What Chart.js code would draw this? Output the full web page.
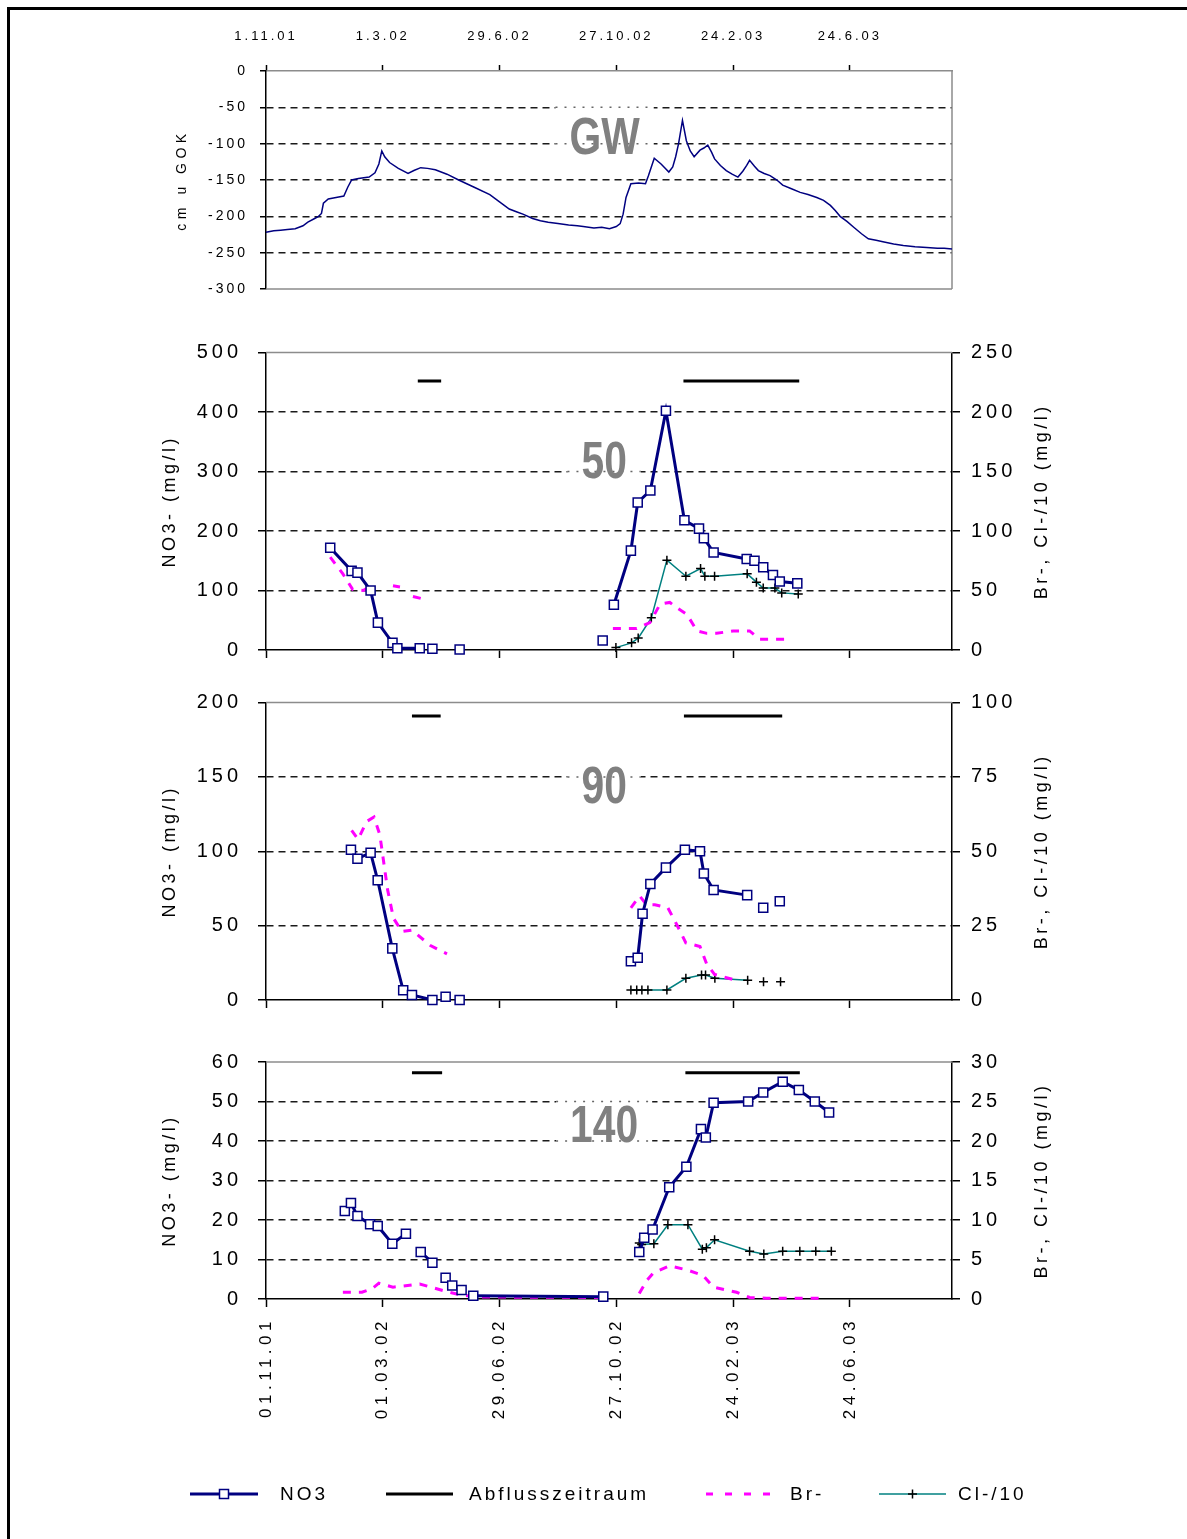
<!DOCTYPE html>
<html>
<head>
<meta charset="utf-8">
<script src="https://cdn.jsdelivr.net/npm/chart.js@4.4.1/dist/chart.umd.min.js"></script>
<style>
html,body{margin:0;padding:0;background:#fff;}
#page{position:relative;width:1187px;height:1539px;overflow:hidden;background:#fff;}
#frame{position:absolute;left:7px;top:7px;width:1300px;height:1700px;border-left:3px solid #000;border-top:3px solid #000;}
canvas{position:absolute;left:0;}
</style>
</head>
<body>
<div id="page">
<div id="frame"></div>
<canvas id="cGW" width="1187" height="285" style="top:16px"></canvas>
<canvas id="c50" width="1187" height="328" style="top:337px"></canvas>
<canvas id="c90" width="1187" height="328" style="top:687px"></canvas>
<canvas id="c140" width="1187" height="492" style="top:1047px"></canvas>
</div>
<script>
// ---------------- DATA (x = days since 01.11.2001) ----------------
const tickDays = [0, 120, 240, 360, 480, 600];
const topTickLabels = ['1.11.01', '1.3.02', '29.6.02', '27.10.02', '24.2.03', '24.6.03'];
const bottomTickLabels = ['01.11.01', '01.03.02', '29.06.02', '27.10.02', '24.02.03', '24.06.03'];
const xMax = 705;

// Groundwater level (cm u GOK)
const gwDays = [0, 8, 15, 22, 30, 38, 43, 50, 54, 57, 59, 64, 72, 80, 84, 88, 95, 106, 112, 116, 119, 122, 127, 136, 146, 152, 159, 166, 174, 186, 198, 214, 230, 240, 250, 258, 264, 274, 282, 290, 300, 311, 320, 326, 337, 345, 353, 360, 364, 367, 370, 375, 383, 390, 393, 399, 406, 414, 418, 421, 424, 428, 432, 436, 440, 446, 450, 454, 458, 461, 467, 473, 479, 485, 490, 494, 497, 502, 506, 512, 518, 525, 531, 540, 549, 557, 566, 573, 580, 585, 590, 597, 604, 612, 619, 627, 634, 645, 655, 667, 679, 690, 697, 705];
const gwLevel = [-222, -220, -219, -218, -217, -213, -208, -203, -200, -196, -182, -176, -174, -172, -160, -150, -148, -146, -140, -128, -110, -118, -126, -134, -141, -137, -133, -134, -136, -142, -150, -160, -170, -180, -190, -194, -197, -203, -206, -208, -210, -212, -213, -214, -216, -215, -217, -214, -210, -197, -174, -155, -154, -155, -144, -120, -128, -139, -132, -118, -100, -68, -96, -110, -118, -109, -106, -102, -112, -121, -130, -137, -142, -146, -138, -130, -123, -131, -137, -141, -144, -150, -157, -162, -167, -170, -174, -178, -185, -192, -200, -207, -215, -224, -231, -233, -235, -238, -240, -242, -243, -244, -244, -245];

// 50 cm
const no3_50_days = [66, 88, 94, 107.5, 115, 130, 135, 158, 165, 171, 185, 199, 300, 346, 352, 357.5, 375, 382, 395, 411, 430, 445, 450, 460, 494, 502, 511, 521, 528, 546];
const no3_50 = [172, 133, 130, 100, 46, 12, 3, 3, null, 2, null, 1, null, 16, null, 76, 167, 248, 268, 402, 218, 204, 188, 164, 153, 150, 139, 126, 115, 112];
const br_50_days = [66, 79, 89, 100, 110, 122, 130.5, 137.7, 144, 151, 161, 250, 356.5, 381, 394.5, 405, 415, 422, 432.5, 443, 453, 463, 480, 497, 507.5, 521, 533];
const br_50 = [78, 64, 51, 50, 55, null, 54, 53, null, 45, 43, null, 18, 18, 23, 38.5, 40, 35.6, 30, 16, 14, 14, 16, 16, 9, 9, 9];
const cl_50_days = [359.6, 375.7, 382.5, 396, 412, 431.5, 446.6, 451, 461, 494.5, 504, 511, 523, 530, 547];
const cl_50 = [2, 6, 10, 27, 75.5, 62, 68.5, 62, 62, 64, 57, 52, 52, 48, 47];
const abfluss_50_days = [156, 180, 300, 429, 548];
const abfluss_50 = [452, 452, null, 452, 452];

// 90 cm
const no3_90_days = [87.3, 94, 107.5, 114.8, 129.8, 141, 150, 171, 178, 184.6, 192, 199, 300, 375, 382, 387, 395, 411, 430.5, 446, 450, 460, 494.5, 503, 511, 520, 528];
const no3_90 = [101, 95, 99, 80.5, 34.7, 6.5, 3.4, 0, null, 2.2, null, 0, null, 26, 28.4, 58, 78, 89, 101, 100, 85, 74, 70.5, null, 62, null, 66.4];
const br_90_days = [88, 94.6, 103.5, 111, 117, 125, 131, 139.7, 150, 168.5, 186, 280, 375, 384, 391, 399.6, 413, 423, 431.5, 446, 453, 461, 482];
const br_90 = [57, 54, 60, 61.5, 55.5, 37, 27.5, 23, 23.5, 18.4, 15.5, null, 31, 35, 32, 32, 31, 24.8, 19.2, 18, 12, 8.6, 6.7];
const cl_90_days = [375, 381, 386.3, 392.5, 412, 431.5, 447.6, 451.7, 461.3, 495, 503, 511.3, 520, 528.8];
const cl_90 = [3.4, 3.4, 3.4, 3.4, 3.4, 7.3, 8.4, 8.4, 7.3, 6.6, null, 6.1, null, 6.1];
const abfluss_90_days = [150, 179.5, 300, 429.5, 530.5];
const abfluss_90 = [191, 191, null, 191, 191];

// 140 cm
const no3_140_days = [81, 84, 87.3, 94, 107, 114.8, 129.8, 143.8, 151, 159, 171, 178, 184.6, 188, 191.4, 196, 201, 207, 213, 346.6, 365, 383.6, 388.7, 397.3, 414.4, 432, 447, 452, 460, 495.5, 511, 531, 547.6, 564, 578.7];
const no3_140 = [22.3, null, 24.3, 21, 18.9, 18.5, 14, 16.5, null, 11.9, 9.2, null, 5.4, null, 3.4, null, 2.3, null, 0.8, 0.6, null, 11.9, 15.5, 17.6, 28.3, 33.5, 43, 40.9, 49.7, 50, 52.3, 55, 52.9, 50, 47.2];
const br_140_days = [79, 98.6, 109, 116, 130.5, 158, 184, 197, 215, 343, 370, 383.6, 391.7, 398, 415, 432, 449, 460, 483.6, 497, 514, 569];
const br_140 = [0.85, 0.85, 1.3, 2.0, 1.5, 1.9, 1.0, 0.6, 0.25, 0.2, null, 0.7, 2.4, 3.3, 4.2, 3.7, 3.0, 1.5, 0.85, 0.2, 0.1, 0.1];
const cl_140_days = [383.6, 386, 398.6, 413, 433.6, 448.4, 452.6, 461, 497, 511.6, 531, 548.6, 565, 581];
const cl_140 = [7.1, 6.9, 7.0, 9.4, 9.4, 6.3, 6.5, 7.5, 6.05, 5.7, 6.05, 6.05, 6.05, 6.05];
const abfluss_140_days = [150, 181, 300, 431, 548.6];
const abfluss_140 = [57.3, 57.3, null, 57.3, 57.3];

const seriesLabels = ['NO3', 'Abflusszeitraum', 'Br-', 'Cl-/10'];

// ---------------- STYLE / HELPERS ----------------
const FONT = "'Liberation Sans', Arial, Helvetica, sans-serif";
const NAVY = '#000080';
Chart.defaults.font.family = FONT;
Chart.defaults.color = '#000';

function pts(days, vals) { return days.map((d, i) => ({ x: d, y: vals[i] })); }

function xScale(o) {
  return {
    type: 'linear', position: o.pos, min: 0, max: xMax,
    afterBuildTicks: s => { s.ticks = tickDays.map(v => ({ value: v })); },
    afterFit: s => { s.height = o.h; s.paddingLeft = 0; s.paddingRight = 0; s.paddingTop = 0; s.paddingBottom = 0; },
    ticks: {
      display: !!o.labels, autoSkip: false, minRotation: o.rot || 0, maxRotation: o.rot || 0,
      padding: o.pad || 0, font: { size: o.fs || 13, family: FONT }, color: '#000',
      callback: v => o.labels ? o.labels[tickDays.indexOf(v)] : ''
    },
    grid: { drawOnChartArea: false, drawTicks: true, color: '#000', tickColor: '#000', tickLength: o.tl, tickWidth: 1.5 },
    border: { display: true, color: o.bc, width: 1.5 }
  };
}

function yScale(o) {
  const min = o.min, max = o.max;
  return {
    type: 'linear', position: o.pos, min: min, max: max,
    afterFit: s => { s.width = o.w; s.paddingTop = 0; s.paddingBottom = 0; s.paddingLeft = 0; s.paddingRight = 0; },
    ticks: { stepSize: o.step, padding: o.pad, font: { size: o.fs, family: FONT }, color: '#000' },
    grid: {
      drawOnChartArea: o.pos === 'left', drawTicks: true,
      color: c => (c.tick && (c.tick.value === min || c.tick.value === max)) ? 'rgba(0,0,0,0)' : '#1a1a1a',
      lineWidth: 1.5, tickColor: '#000', tickLength: o.tl, tickWidth: 1.5
    },
    border: { display: true, color: '#000', width: 1.5, dash: [7, 5] },
    title: { display: true, text: o.title, font: { size: o.tfs, family: FONT }, color: '#000', padding: 0 }
  };
}

// letter spacing for labels and rotated (-90deg) titles
const spacingPlugin = {
  id: 'spacing',
  beforeDraw(chart, args, opts) {
    for (const id in chart.scales) {
      const s = chart.scales[id];
      if (s.__patched) continue;
      s.__patched = true;
      const cfg = (opts && opts[id]) || {};
      const lsLabels = cfg.labels || '0px';
      const lsTitle = cfg.title || '0px';
      const proto = Object.getPrototypeOf(s);
      s.drawLabels = function (area) {
        const c = this.ctx; c.save(); c.letterSpacing = lsLabels;
        proto.drawLabels.call(this, area); c.restore();
      };
      if (!s.isHorizontal()) {
        s.drawTitle = function () {
          const t = this.options.title; if (!t || !t.display) return;
          const f = t.font; const size = f.size; const lh = size * 1.2;
          const c = this.ctx; c.save();
          c.letterSpacing = lsTitle;
          c.font = (f.style || 'normal') + ' ' + (f.weight || 'normal') + ' ' + size + 'px ' + f.family;
          c.fillStyle = t.color || '#000'; c.textAlign = 'center'; c.textBaseline = 'middle';
          const x = this.position === 'left' ? this.left + lh / 2 : this.right - lh / 2;
          const y = (this.top + this.bottom) / 2;
          c.translate(x, y); c.rotate(-Math.PI / 2); c.fillText(t.text, 0, 0); c.restore();
        };
      }
    }
  }
};

const framePlugin = {
  id: 'frameLines',
  beforeDatasetsDraw(chart, args, opts) {
    const a = chart.chartArea, c = chart.ctx;
    c.save(); c.strokeStyle = '#8c8c8c'; c.lineWidth = 1.5; c.beginPath();
    if (opts.top) { c.moveTo(a.left, a.top); c.lineTo(a.right, a.top); }
    if (opts.right) { c.moveTo(a.right, a.top); c.lineTo(a.right, a.bottom); }
    if (opts.bottom) { c.moveTo(a.left, a.bottom); c.lineTo(a.right, a.bottom); }
    c.stroke(); c.restore();
  }
};

const tagPlugin = {
  id: 'tag',
  beforeDatasetsDraw(chart, args, opts) {
    if (!opts.text) return;
    const c = chart.ctx, ys = chart.scales.y;
    const x = chart.scales.x.getPixelForValue(opts.x);
    const y = ys.getPixelForValue(opts.y);
    const sx = 0.8;
    c.save();
    c.font = 'bold 51px ' + FONT;
    const w = c.measureText(opts.text).width * sx;
    const bx0 = x - w / 2 - 14, bx1 = x + w / 2 + 14, by0 = y - 34, by1 = y + 34;
    c.fillStyle = '#fff'; c.fillRect(bx0, by0, bx1 - bx0, by1 - by0);
    c.strokeStyle = '#666'; c.lineWidth = 1.5; c.setLineDash([2, 7]);
    ys.ticks.forEach(t => {
      const py = ys.getPixelForValue(t.value);
      if (py > by0 && py < by1 && t.value !== ys.min && t.value !== ys.max) {
        c.beginPath(); c.moveTo(bx0, py); c.lineTo(bx1, py); c.stroke();
      }
    });
    c.setLineDash([]);
    c.fillStyle = '#808080'; c.textAlign = 'center'; c.textBaseline = 'middle';
    c.translate(x, y + 2); c.scale(sx, 1);
    c.fillText(opts.text, 0, 0);
    c.restore();
  }
};

const legendLayout = [
  { x0: 190, x1: 258, tx: 280 },
  { x0: 386, x1: 453, tx: 469 },
  { x0: 706, x1: 773, tx: 790 },
  { x0: 879, x1: 946, tx: 958 }
];
const legendPlugin = {
  id: 'bottomLegend',
  afterDraw(chart) {
    const c = chart.ctx, ds = chart.data.datasets;
    const y = chart.chartArea.bottom + 195;
    legendLayout.forEach((it, i) => {
      const d = ds[i];
      c.save();
      c.strokeStyle = d.borderColor; c.lineWidth = d.borderWidth;
      c.setLineDash(i === 2 ? [7, 12] : []);
      c.beginPath(); c.moveTo(it.x0, y); c.lineTo(it.x1, y); c.stroke();
      c.setLineDash([]);
      const mx = (it.x0 + it.x1) / 2;
      if (d.pointStyle === 'rect') {
        c.fillStyle = '#fff'; c.fillRect(mx - 4.5, y - 4.5, 9, 9);
        c.lineWidth = 1.5; c.strokeStyle = d.pointBorderColor; c.strokeRect(mx - 4.5, y - 4.5, 9, 9);
      } else if (d.pointStyle === 'cross') {
        c.lineWidth = 1.5; c.strokeStyle = d.pointBorderColor;
        c.beginPath(); c.moveTo(mx - 4.5, y); c.lineTo(mx + 4.5, y); c.moveTo(mx, y - 4.5); c.lineTo(mx, y + 4.5); c.stroke();
      }
      c.font = '19px ' + FONT; c.letterSpacing = '3px';
      c.fillStyle = '#000'; c.textAlign = 'left'; c.textBaseline = 'middle';
      c.fillText(d.label, it.tx, y + 1);
      c.restore();
    });
  }
};

function panelDatasets(p) {
  return [
    { label: seriesLabels[0], data: pts(p.no3Days, p.no3), yAxisID: 'y', borderColor: NAVY, borderWidth: 3, pointStyle: 'rect', pointRadius: 6.4, pointBorderWidth: 1.5, pointBackgroundColor: '#fff', pointBorderColor: NAVY, clip: false },
    { label: seriesLabels[1], data: pts(p.abDays, p.ab), yAxisID: 'y', borderColor: '#000', borderWidth: 3, pointRadius: 0, clip: false },
    { label: seriesLabels[2], data: pts(p.brDays, p.br), yAxisID: 'y2', borderColor: '#ff00ff', borderWidth: 3, borderDash: [8, 8], pointRadius: 0, clip: false },
    { label: seriesLabels[3], data: pts(p.clDays, p.cl), yAxisID: 'y2', borderColor: '#008080', borderWidth: 1.5, pointStyle: 'cross', pointRadius: 4.5, pointBorderColor: '#000', pointBorderWidth: 1.5, pointBackgroundColor: '#000', clip: false }
  ];
}

const common = { responsive: false, animation: false, devicePixelRatio: 1, events: [] };

// adjust layout padding so the plot area lands exactly at the wanted page position
function fitArea(chart, canvasTop, wantTop, wantBottom) {
  for (let k = 0; k < 4; k++) {
    const a = chart.chartArea;
    const dt = (wantTop - canvasTop) - a.top;
    const db = (wantBottom - canvasTop) - a.bottom;
    if (Math.abs(dt) < 0.25 && Math.abs(db) < 0.25) break;
    const p = chart.config.options.layout.padding;
    chart.config.options.layout.padding = Object.assign({}, p, { top: p.top + dt, bottom: p.bottom - db });
    chart.update();
  }
}

// ---------------- GW chart ----------------
const gwChart = new Chart(document.getElementById('cGW'), {
  type: 'line',
  data: { datasets: [{ label: 'GW', data: pts(gwDays, gwLevel), borderColor: NAVY, borderWidth: 1.5, pointRadius: 0, clip: false }] },
  options: Object.assign({}, common, {
    layout: { padding: { left: 173.6, right: 235, top: 0, bottom: 12 } },
    scales: {
      x: xScale({ pos: 'top', h: 55, labels: topTickLabels, fs: 13, pad: 21, tl: 6, bc: '#8c8c8c' }),
      y: yScale({ pos: 'left', min: -300, max: 0, step: 50, w: 92.4, pad: 12, fs: 14, tl: 6, title: 'cm u GOK', tfs: 14 })
    },
    plugins: {
      legend: { display: false }, tooltip: { enabled: false },
      spacing: { x: { labels: '3px' }, y: { labels: '3px', title: '4.5px' } },
      frameLines: { top: false, right: true, bottom: true },
      tag: { text: 'GW', x: 348, y: -91.5 }
    }
  }),
  plugins: [spacingPlugin, framePlugin, tagPlugin]
});
fitArea(gwChart, 16, 71, 289);

// ---------------- concentration panels ----------------
function panel(id, p, isLast) {
  return new Chart(document.getElementById(id), {
    type: 'line',
    data: { datasets: panelDatasets(p) },
    options: Object.assign({}, common, {
      layout: { padding: { left: 159.2, right: 134.2, top: 15, bottom: isLast ? 100 : 0 } },
      scales: {
        x: isLast
          ? xScale({ pos: 'bottom', h: 140, labels: bottomTickLabels, fs: 17, pad: 10, rot: 90, tl: 8, bc: '#000' })
          : xScale({ pos: 'bottom', h: 15, labels: null, tl: 8, bc: '#000' }),
        y: yScale({ pos: 'left', min: 0, max: p.lMax, step: p.lStep, w: 106.8, pad: 16, fs: 20, tl: 8, title: 'NO3- (mg/l)', tfs: 18 }),
        y2: yScale({ pos: 'right', min: 0, max: p.rMax, step: p.rStep, w: 100.8, pad: 11, fs: 20, tl: 8, title: 'Br-, Cl-/10 (mg/l)', tfs: 18 })
      },
      plugins: {
        legend: { display: false }, tooltip: { enabled: false },
        spacing: { x: { labels: '4.5px' }, y: { labels: '4px', title: '3.5px' }, y2: { labels: '4px', title: '3.5px' } },
        frameLines: { top: true, right: false, bottom: false },
        tag: { text: p.tag, x: 347.5, y: p.tagY }
      }
    }),
    plugins: isLast ? [spacingPlugin, framePlugin, tagPlugin, legendPlugin] : [spacingPlugin, framePlugin, tagPlugin]
  });
}

const c50 = panel('c50', { no3Days: no3_50_days, no3: no3_50, abDays: abfluss_50_days, ab: abfluss_50, brDays: br_50_days, br: br_50, clDays: cl_50_days, cl: cl_50, lMax: 500, lStep: 100, rMax: 250, rStep: 50, tag: '50', tagY: 316 }, false);
fitArea(c50, 337, 352.5, 650);
const c90 = panel('c90', { no3Days: no3_90_days, no3: no3_90, abDays: abfluss_90_days, ab: abfluss_90, brDays: br_90_days, br: br_90, clDays: cl_90_days, cl: cl_90, lMax: 200, lStep: 50, rMax: 100, rStep: 25, tag: '90', tagY: 143 }, false);
fitArea(c90, 687, 702.5, 1000);
const c140 = panel('c140', { no3Days: no3_140_days, no3: no3_140, abDays: abfluss_140_days, ab: abfluss_140, brDays: br_140_days, br: br_140, clDays: cl_140_days, cl: cl_140, lMax: 60, lStep: 10, rMax: 30, rStep: 5, tag: '140', tagY: 43.8 }, true);
fitArea(c140, 1047, 1062, 1299);
</script>
</body>
</html>
